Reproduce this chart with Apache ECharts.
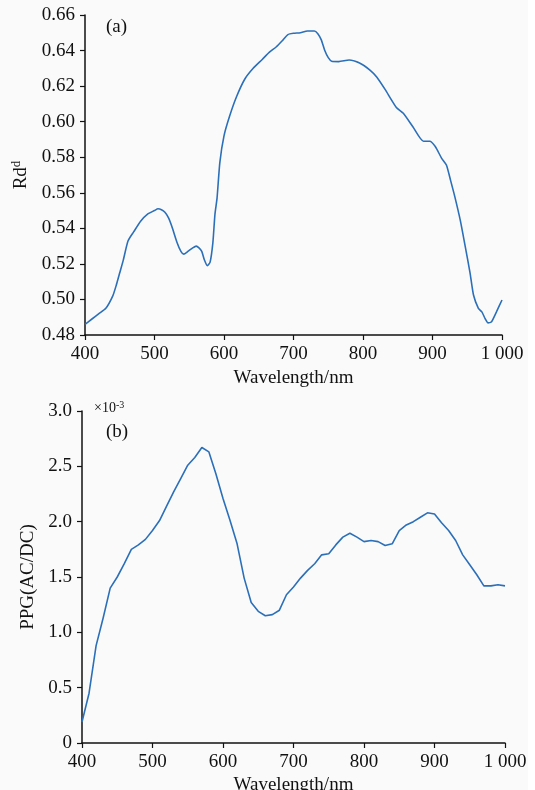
<!DOCTYPE html>
<html>
<head>
<meta charset="utf-8">
<script src="https://cdn.jsdelivr.net/npm/echarts@6/dist/echarts.min.js"></script>
<style>
  html, body { margin: 0; padding: 0; background: #ffffff; }
  #chart { width: 528px; height: 790px; background: #fafafa; }
</style>
</head>
<body>
<div id="chart"></div>
<script>
// (a) diffuse reflectance Rd^d vs wavelength
const rdWave = [400, 410, 420, 430, 440, 445, 450, 455, 462, 470, 480, 490, 500, 505, 510, 515, 520, 525, 532, 538,
  542, 548, 555, 560, 564, 568, 572, 576, 580, 584, 587, 590, 594, 600, 608, 618, 630, 642, 655, 665,
  675, 685, 692, 700, 710, 720, 730, 735, 740, 745, 750, 755, 765, 780, 795, 810, 820, 832, 848, 858,
  872, 887, 896, 904, 913, 920, 926, 932, 940, 947, 954, 959, 966, 971, 976, 980, 985, 992, 1000]
const rdValue = [0.486, 0.489, 0.492, 0.495, 0.502, 0.508, 0.515, 0.522, 0.533, 0.538, 0.544, 0.548, 0.550, 0.551, 0.5505, 0.549, 0.546, 0.541, 0.5325, 0.527,
  0.5255, 0.527, 0.529, 0.530, 0.529, 0.527, 0.522, 0.519, 0.521, 0.532, 0.548, 0.557, 0.577, 0.592, 0.603, 0.614, 0.624, 0.630, 0.635, 0.639,
  0.642, 0.646, 0.649, 0.6497, 0.650, 0.651, 0.651, 0.6495, 0.646, 0.640, 0.636, 0.634, 0.6338, 0.6347, 0.633, 0.629, 0.625, 0.618, 0.608, 0.6047,
  0.597, 0.589, 0.589, 0.586, 0.5795, 0.5756, 0.567, 0.558, 0.5445, 0.530, 0.515, 0.5025, 0.495, 0.493, 0.489, 0.4868, 0.4875, 0.493, 0.4997]

// (b) PPG(AC/DC), in units of 1e-3
const ppgWave = [400, 410, 420, 430, 440, 450, 460, 470, 480, 490, 500, 510, 520, 530, 540, 550, 560, 570, 580, 590,
  600, 610, 620, 630, 640, 650, 660, 670, 680, 690, 700, 710, 720, 730, 740, 750, 760, 770, 780, 790,
  800, 810, 820, 830, 840, 850, 860, 870, 880, 890, 900, 910, 920, 930, 940, 950, 960, 970, 980, 990, 1000]
const ppgValue = [0.19, 0.45, 0.88, 1.13, 1.40, 1.50, 1.62, 1.75, 1.79, 1.84, 1.92, 2.01, 2.14, 2.27, 2.39, 2.51, 2.58, 2.67, 2.63, 2.43,
  2.21, 2.01, 1.80, 1.49, 1.27, 1.19, 1.15, 1.16, 1.20, 1.34, 1.41, 1.49, 1.56, 1.62, 1.70, 1.71, 1.79, 1.86, 1.895, 1.86,
  1.82, 1.83, 1.82, 1.785, 1.80, 1.92, 1.97, 2.00, 2.04, 2.08, 2.07, 1.99, 1.92, 1.83, 1.70, 1.61, 1.52, 1.42, 1.42, 1.43, 1.42]

const FONT = '"Liberation Serif", "DejaVu Serif", serif'
const FS = 19
const LINE_COLOR = '#2c6fb9'

const zip = (xs, ys) => xs.map((x, i) => [x, ys[i]])

const wavelengthLabel = (v) => (v === 1000 ? '1 000' : String(v))

const makeXAxis = (gridIndex, margin, nameGap) => ({
  type: 'value',
  gridIndex,
  min: 400,
  max: 1000,
  interval: 100,
  name: 'Wavelength/nm',
  nameLocation: 'middle',
  nameGap,
  nameTextStyle: { fontFamily: FONT, fontSize: FS, color: '#111' },
  axisLine: { lineStyle: { color: '#111', width: 1.5 } },
  axisTick: { show: true, inside: false, length: 5, lineStyle: { color: '#111', width: 1.2 } },
  axisLabel: { fontFamily: FONT, fontSize: FS, color: '#111', margin, formatter: wavelengthLabel },
  splitLine: { show: false }
})

const baseYAxis = {
  type: 'value',
  nameLocation: 'middle',
  nameRotate: 90,
  axisLine: { show: true, lineStyle: { color: '#111', width: 1.5 } },
  axisTick: { show: true, inside: false, length: 5, lineStyle: { color: '#111', width: 1.2 } },
  splitLine: { show: false }
}

const option = {
  backgroundColor: '#fafafa',
  animation: false,
  grid: [
    { left: 85, top: 15, width: 417, height: 320, outerBoundsMode: 'none' },
    { left: 82, top: 411, width: 423, height: 332, outerBoundsMode: 'none' }
  ],
  xAxis: [makeXAxis(0, 10, 34), makeXAxis(1, 10, 33)],
  yAxis: [
    {
      ...baseYAxis,
      gridIndex: 0,
      min: 0.48,
      max: 0.66,
      interval: 0.02,
      name: '{n|Rd}{s|d}',
      nameGap: 50,
      nameTextStyle: {
        rich: {
          n: { fontFamily: FONT, fontSize: FS, color: '#111' },
          s: { fontFamily: FONT, fontSize: 13, color: '#111', verticalAlign: 'top', padding: [0, 0, 10, 0] }
        }
      },
      axisLabel: { fontFamily: FONT, fontSize: FS, color: '#111', margin: 10, formatter: (v) => v.toFixed(2) }
    },
    {
      ...baseYAxis,
      gridIndex: 1,
      min: 0,
      max: 3,
      interval: 0.5,
      name: 'PPG(AC/DC)',
      nameGap: 44,
      nameTextStyle: { fontFamily: FONT, fontSize: FS, color: '#111' },
      axisLabel: { fontFamily: FONT, fontSize: FS, color: '#111', margin: 10, formatter: (v) => (v === 0 ? '0' : v.toFixed(1)) }
    }
  ],
  graphic: [
    { type: 'text', left: 106, top: 18, style: { text: '(a)', font: FS + 'px ' + FONT, fill: '#111' } },
    { type: 'text', left: 106, top: 423, style: { text: '(b)', font: FS + 'px ' + FONT, fill: '#111' } },
    {
      type: 'text', left: 94, top: 400,
      style: {
        text: '{m|×10}{e|-3}',
        rich: {
          m: { fontFamily: FONT, fontSize: 14, fill: '#111' },
          e: { fontFamily: FONT, fontSize: 10, fill: '#111', verticalAlign: 'top', padding: [0, 0, 6, 0] }
        }
      }
    }
  ],
  series: [
    {
      type: 'line',
      xAxisIndex: 0,
      yAxisIndex: 0,
      data: zip(rdWave, rdValue),
      showSymbol: false,
      smooth: 0.2,
      lineStyle: { color: LINE_COLOR, width: 1.6 }
    },
    {
      type: 'line',
      xAxisIndex: 1,
      yAxisIndex: 1,
      data: zip(ppgWave, ppgValue),
      showSymbol: false,
      lineStyle: { color: LINE_COLOR, width: 1.6 }
    }
  ]
}

const chartInstance = echarts.init(document.getElementById('chart'))
chartInstance.setOption(option)
</script>
</body>
</html>
